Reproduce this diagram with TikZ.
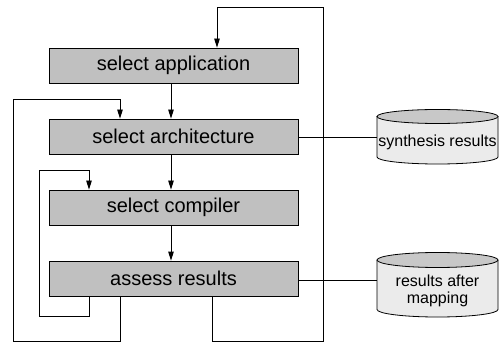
\documentclass[tikz,border=0pt]{standalone}
\usepackage{fontspec}
\setmainfont{Liberation Sans}
\usetikzlibrary{arrows.meta,calc}
\definecolor{boxgray}{RGB}{192,192,192}
\definecolor{cyltop}{RGB}{200,200,200}
\definecolor{cylbody}{RGB}{235,235,235}
\tikzset{
  stepbox/.style={draw=black, line width=0.8pt, fill=boxgray, minimum width=249pt, minimum height=35pt, inner sep=0pt, font=\fontsize{20pt}{22pt}\selectfont},
  conn/.style={line width=0.8pt},
  arr/.style={conn, -{Triangle[length=9pt,width=5.5pt]}},
  cyltext/.style={font=\fontsize{16pt}{17pt}\selectfont, align=center, inner sep=0pt}
}
\begin{document}
\begin{tikzpicture}[x=1pt,y=-1pt]
\useasboundingbox (0,0) rectangle (501,342);
% boxes
\node[stepbox] (app) at (173.5,65.5) {select application};
\node[stepbox] (arch) at (173.5,136.5) {select architecture};
\node[stepbox] (comp) at (173.5,207.5) {select compiler};
\node[stepbox] (assess) at (173.5,278.5) {assess results};
% helper coordinates
\coordinate (mid) at (171,0);
\coordinate (r1) at (212,341);
\coordinate (r2) at (323,341);
\coordinate (r3) at (323,7);
\coordinate (r4) at (217,7);
\coordinate (l1) at (120,341);
\coordinate (l2) at (13,341);
\coordinate (l3) at (13,99);
\coordinate (l4) at (120,99);
\coordinate (i1) at (89,316);
\coordinate (i2) at (39,316);
\coordinate (i3) at (39,170);
\coordinate (i4) at (89,170);
% cylinders
\path[fill=cylbody, draw=black, line width=0.8pt] (377,116.5) -- (377,157) arc[start angle=180, end angle=0, x radius=60.5, y radius=7] -- (498,116.5);
\path[fill=cyltop, draw=black, line width=0.8pt] (437.5,116.5) ellipse[x radius=60.5, y radius=7];
\path[fill=cylbody, draw=black, line width=0.8pt] (377,260) -- (377,309.5) arc[start angle=180, end angle=0, x radius=60.5, y radius=7.5] -- (498,260);
\path[fill=cyltop, draw=black, line width=0.8pt] (437.5,260) ellipse[x radius=60.5, y radius=7.5];
\node[cyltext] (syn) at (437.5,142) {synthesis results};
\node[cyltext] (map) at (437.5,291) {results after\\mapping};
\coordinate (synw) at (377,137.5);
\coordinate (mapw) at (377,280.5);
% connectors
\draw[arr] (app.south -| mid) -- (arch.north -| mid);
\draw[arr] (arch.south -| mid) -- (comp.north -| mid);
\draw[arr] (comp.south -| mid) -- (assess.north -| mid);
\draw[arr] (assess.south -| r1) -- (r1) -- (r2) -- (r3) -- (r4) -- (app.north -| r4);
\draw[arr] (assess.south -| l1) -- (l1) -- (l2) -- (l3) -- (l4) -- (arch.north -| l4);
\draw[arr] (assess.south -| i1) -- (i1) -- (i2) -- (i3) -- (i4) -- (comp.north -| i4);
\draw[conn] (arch.east |- synw) -- (synw);
\draw[conn] (assess.east |- mapw) -- (mapw);
\end{tikzpicture}
\end{document}
